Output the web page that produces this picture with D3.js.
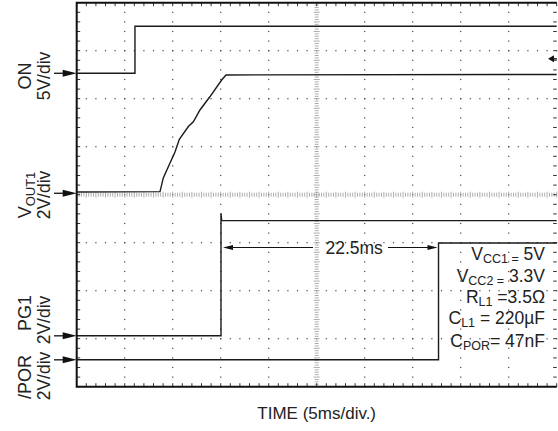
<!DOCTYPE html>
<html>
<head>
<meta charset="utf-8">
<script src="https://cdn.jsdelivr.net/npm/d3@7"></script>
<style>
  body { margin: 0; background: #fff; }
  text { font-family: "Liberation Sans", Arial, sans-serif; fill: #222; }
</style>
</head>
<body>
<svg width="558" height="431"></svg>
<script>
// scope capture, 5ms/div horizontally, each channel has its own V/div
let channels = ["ON", "VOUT1", "PG1", "/POR"];
let voltsPerDiv = [5, 2, 2, 2];
let zeroDiv = [2.53, 0.03, -2.94, -3.44];   // ground marker of each channel, in divisions

let onTime = [0, 6.07, 6.07, 50];
let onVolts = [0, 0, 4.9, 4.9];
let voutTime = [0, 8.68, 9.02, 9.72, 10.24, 10.69, 11.63, 12.15, 12.84, 13.89, 15.1, 15.55, 50];
let voutVolts = [0.05, 0.07, 0.64, 1.26, 1.72, 2.25, 2.78, 2.98, 3.47, 4.03, 4.72, 4.93, 4.95];
let pgTime = [0, 15.03, 15.03, 15.1, 50];
let pgVolts = [0, 0, 5.1, 4.8, 4.8];
let porTime = [0, 37.69, 37.69, 50];
let porVolts = [0, 0, 4.87, 4.87];

let triggerVolts = 1.5;           // on ON channel
let delayStart = 15.03, delayEnd = 37.69;
let delayLabel = "22.5ms";

let pLeft = 76.7, pRight = 556.7, pTop = 2.7, pBottom = 386.7;

let x = d3.scaleLinear().domain([0, 50]).range([pLeft, pRight]);
let y = d3.scaleLinear().domain([-4, 4]).range([pBottom, pTop]);

let svg = d3.select("svg");

// graticule
let grid = svg.append("g").attr("class", "grid");
let minorT = d3.range(0, 50.001, 1);
let minorD = d3.range(-4, 4.001, 0.2);
let majorT = d3.range(5, 50, 5).filter(t => t != 25);
let majorD = d3.range(-3, 4, 1).filter(d => d != 0);

majorT.forEach(t => {
  grid.selectAll(null).data(minorD).enter().append("rect")
    .attr("x", x(t) - 0.6).attr("y", d => y(d) - 0.6)
    .attr("width", 1.2).attr("height", 1.2)
    .attr("fill", "#444");
});
majorD.forEach(dv => {
  grid.selectAll(null).data(minorT).enter().append("rect")
    .attr("x", t => x(t) - 0.6).attr("y", y(dv) - 0.6)
    .attr("width", 1.2).attr("height", 1.2)
    .attr("fill", "#444");
});

// center cross with fine ticks
let isMinor = d => Math.abs(d * 5 - Math.round(d * 5)) < 1e-6;
let fineD = d3.range(-4, 4.001, 0.05);
let fineT = d3.range(0, 50.001, 0.25);
grid.selectAll(null).data(fineD).enter().append("line")
  .attr("x1", d => x(25) - (isMinor(d) ? 3 : 2))
  .attr("x2", d => x(25) + (isMinor(d) ? 3 : 2))
  .attr("y1", d => y(d)).attr("y2", d => y(d))
  .attr("stroke", "#999").attr("stroke-width", 0.8);
grid.selectAll(null).data(fineT).enter().append("line")
  .attr("y1", t => y(0) - (t % 1 == 0 ? 3 : 2))
  .attr("y2", t => y(0) + (t % 1 == 0 ? 3 : 2))
  .attr("x1", t => x(t)).attr("x2", t => x(t))
  .attr("stroke", "#999").attr("stroke-width", 0.8);

// edge ticks
grid.selectAll(null).data(minorT).enter().append("line")
  .attr("x1", t => x(t)).attr("x2", t => x(t))
  .attr("y1", pTop).attr("y2", pTop + 3.5)
  .attr("stroke", "#333");
grid.selectAll(null).data(minorT).enter().append("line")
  .attr("x1", t => x(t)).attr("x2", t => x(t))
  .attr("y1", pBottom - 3.5).attr("y2", pBottom)
  .attr("stroke", "#333");
grid.selectAll(null).data(minorD).enter().append("line")
  .attr("x1", pLeft).attr("x2", pLeft + 3.5)
  .attr("y1", d => y(d)).attr("y2", d => y(d))
  .attr("stroke", "#333");
grid.selectAll(null).data(minorD).enter().append("line")
  .attr("x1", pRight - 3.5).attr("x2", pRight)
  .attr("y1", d => y(d)).attr("y2", d => y(d))
  .attr("stroke", "#333");

// frame: left, top, bottom solid
svg.append("path")
  .attr("d", `M${pRight},${pTop}H${pLeft}V${pBottom}H${pRight}`)
  .attr("fill", "none").attr("stroke", "#111").attr("stroke-width", 2);

// traces
let traces = [
  [onTime, onVolts],
  [voutTime, voutVolts],
  [pgTime, pgVolts],
  [porTime, porVolts]
];

let line = (i) => d3.line()
  .x(p => x(p[0]))
  .y(p => y(zeroDiv[i] + p[1] / voltsPerDiv[i]));

traces.forEach(([ts, vs], i) => {
  svg.append("path")
    .datum(ts.map((t, k) => [t, vs[k]]))
    .attr("d", line(i))
    .attr("fill", "none")
    .attr("stroke", "#1a1a1a")
    .attr("stroke-width", 1.4);
});

// channel ground markers
channels.forEach((c, i) => {
  let yy = y(zeroDiv[i]);
  svg.append("line")
    .attr("x1", 54).attr("x2", 65).attr("y1", yy).attr("y2", yy)
    .attr("stroke", "#111").attr("stroke-width", 1.3);
  svg.append("path")
    .attr("d", `M${pLeft},${yy}L${pLeft - 14},${yy - 3.5}L${pLeft - 14},${yy + 3.5}Z`)
    .attr("fill", "#111");
});

// trigger level marker on the right
let ty = y(zeroDiv[0] + triggerVolts / voltsPerDiv[0]);
svg.append("path")
  .attr("d", `M548,${ty}L554,${ty - 3.5}L554,${ty + 3.5}Z`)
  .attr("fill", "#111");
svg.append("line")
  .attr("x1", 553).attr("x2", 557).attr("y1", ty).attr("y2", ty)
  .attr("stroke", "#111").attr("stroke-width", 1.3);

// channel labels, rotated
let labelPos = [
  {cy: 76, sy: 76},
  {cy: 195, sy: 195},
  {cy: 313, sy: 320},
  {cy: 377, sy: 376}
];
let names = [["ON", ""], ["V", "OUT1"], ["PG1", ""], ["/POR", ""]];

channels.forEach((c, i) => {
  let t = svg.append("text")
    .attr("transform", `translate(30.5,${labelPos[i].cy}) rotate(-90)`)
    .attr("text-anchor", "middle")
    .attr("font-size", 18);
  t.append("tspan").text(names[i][0]);
  if (names[i][1]) {
    t.append("tspan").attr("dy", 4).attr("font-size", 13).text(names[i][1]);
  }
  svg.append("text")
    .attr("transform", `translate(49.5,${labelPos[i].sy}) rotate(-90)`)
    .attr("text-anchor", "middle")
    .attr("font-size", 17.5)
    .text(voltsPerDiv[i] + "V/div");
});

// delay annotation
let ay = y(-1.1);
let ann = svg.append("g");
ann.append("line")
  .attr("x1", x(delayStart) + 8).attr("x2", 313).attr("y1", ay).attr("y2", ay)
  .attr("stroke", "#111").attr("stroke-width", 1.2);
ann.append("line")
  .attr("x1", 388).attr("x2", x(delayEnd) - 8).attr("y1", ay).attr("y2", ay)
  .attr("stroke", "#111").attr("stroke-width", 1.2);
ann.append("path")
  .attr("d", `M${x(delayStart) + 2},${ay}L${x(delayStart) + 12},${ay - 2.5}L${x(delayStart) + 12},${ay + 2.5}Z`)
  .attr("fill", "#111");
ann.append("path")
  .attr("d", `M${x(delayEnd) - 1},${ay}L${x(delayEnd) - 11},${ay - 2.5}L${x(delayEnd) - 11},${ay + 2.5}Z`)
  .attr("fill", "#111");
ann.append("text")
  .attr("x", x(28.9)).attr("y", ay + 6)
  .attr("text-anchor", "middle")
  .attr("font-size", 17.5)
  .text(delayLabel);

// test conditions
let conds = [
  ["V", "CC1 =", " 5V"],
  ["V", "CC2 =", " 3.3V"],
  ["R", "L1", " =3.5\u03a9"],
  ["C", "L1", " = 220\u00b5F"],
  ["C", "POR", "= 47nF"]
];
let condY = [259.5, 281.5, 302.5, 324, 346.5];
conds.forEach((c, i) => {
  let t = svg.append("text")
    .attr("x", 545).attr("y", condY[i])
    .attr("text-anchor", "end")
    .attr("font-size", 17.5);
  t.append("tspan").text(c[0]);
  t.append("tspan").attr("dy", 3).attr("font-size", 12.5).text(c[1]);
  t.append("tspan").attr("dy", -3).text(c[2]);
});

svg.append("text")
  .attr("x", x(25)).attr("y", 419)
  .attr("text-anchor", "middle")
  .attr("font-size", 17)
  .text("TIME (5ms/div.)");
</script>
</body>
</html>
